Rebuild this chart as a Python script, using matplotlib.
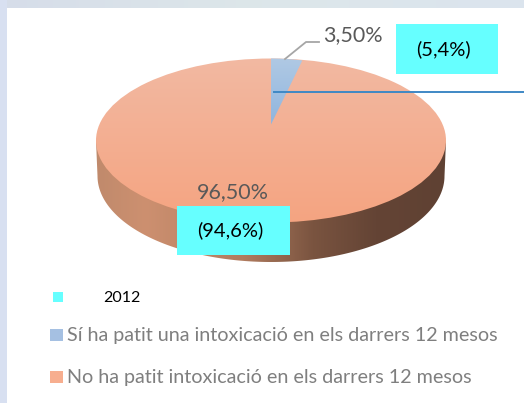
import numpy as np
import matplotlib
matplotlib.use("Agg")
import matplotlib.pyplot as plt
from matplotlib.patches import Polygon, Rectangle, Ellipse
from matplotlib.colors import LinearSegmentedColormap as LSC

plt.rcParams['font.family'] = ['Lato', 'DejaVu Sans']

# data
labels = ["Sí ha patit una intoxicació en els darrers 12 mesos",
          "No ha patit intoxicació en els darrers 12 mesos"]
values_2013 = [3.5, 96.5]
value_text = ["3,50%", "96,50%"]
values_2012_text = ["(5,4%)", "(94,6%)"]
legend_2012 = "2012"

W, H = 524, 403
fig = plt.figure(figsize=(W/100, H/100), dpi=100)
ax = fig.add_axes([0, 0, 1, 1])
ax.set_xlim(0, W); ax.set_ylim(H, 0); ax.axis('off')

# slide background
bg = LSC.from_list('bg', ['#d6dde9', '#dde7ea', '#dbe4ee'])
ax.imshow(np.linspace(0, 1, 256)[None, :], extent=(0, W, 8, 0), cmap=bg, aspect='auto', zorder=0)
ax.add_patch(Rectangle((0, 0), 7, H, fc='#d8e0f1', ec='none', zorder=0.5))
ax.add_patch(Rectangle((7, 8), W-7, H-8, fc='white', ec='none', zorder=1))

# pie geometry
cx, cy, a, b = 271, 140.5, 175, 82
apex = (271, 124.5)

# side wall
tb = np.linspace(np.pi, 0, 200)
side_pts = np.vstack([[cx-a, cy], np.c_[cx+(a-1.5)*np.cos(tb), 176+86*np.sin(tb)], [cx+a, cy]])
side = Polygon(side_pts, closed=True, fc='none', ec='none', zorder=2)
ax.add_patch(side)
side_cm = LSC.from_list('side', [(0, '#c08a6c'), (0.14, '#cd9070'), (0.42, '#b17c5f'),
                                 (0.62, '#7a5440'), (0.8, '#644435'), (1, '#5f4133')])
im = ax.imshow(np.linspace(0, 1, 256)[None, :], extent=(cx-a, cx+a, 265, 130), cmap=side_cm,
               aspect='auto', zorder=2)
im.set_clip_path(side)

# top face
top = Ellipse((cx, cy), 2*a, 2*b, fc='none', ec='none', zorder=3)
ax.add_patch(top)
top_cm = LSC.from_list('top', ['#f2b9a2', '#f5a481'])
im2 = ax.imshow(np.linspace(0, 1, 256)[:, None], extent=(cx-a, cx+a, cy+b, cy-b), cmap=top_cm,
                aspect='auto', zorder=3)
im2.set_clip_path(top)

# small slice, with the arc taken from the share of the first value
frac = values_2013[0] / sum(values_2013)
th = np.linspace(0, 2*np.pi*frac, 30)
arc = np.c_[cx + a*np.sin(th)*0.82, cy - b*np.cos(th)]
wedge = Polygon(np.vstack([apex, arc]), closed=True, fc='none', ec='none', zorder=4)
ax.add_patch(wedge)
bl_cm = LSC.from_list('bl', ['#b0c9e4', '#8fb5de'])
im3 = ax.imshow(np.linspace(0, 1, 256)[:, None], extent=(cx-a, cx+a, 125, 58), cmap=bl_cm,
                aspect='auto', zorder=4)
im3.set_clip_path(wedge)

# leader line and the blue pointer line
ax.plot([285, 306, 319], [59, 42, 42], color='#a6a6a6', lw=1.3, zorder=5)
ax.plot([274, 524], [91.5, 91.5], color='#3f88c5', lw=1.4, zorder=6)

# value labels
ax.text(323, 35.5, value_text[0], fontsize=15.5, color='#595959', ha='left', va='center', zorder=7)
ax.text(233, 192, value_text[1], fontsize=15.5, color='#595959', ha='center', va='center', zorder=7)

# cyan boxes
cyan = '#66ffff'
ax.add_patch(Rectangle((396, 24), 102, 50, fc=cyan, ec='none', zorder=6))
ax.add_patch(Rectangle((177, 206), 113, 49, fc=cyan, ec='none', zorder=6))
ax.text(443.5, 49, values_2012_text[0], fontsize=14.5, color='black', ha='center', va='center', zorder=7)
ax.text(230, 230, values_2012_text[1], fontsize=14.5, color='black', ha='center', va='center', zorder=7)

# legend
ax.add_patch(Rectangle((53, 292), 10, 10, fc=cyan, ec='none', zorder=6))
ax.text(103, 298, legend_2012, fontsize=11.5, color='black', ha='left', va='center', zorder=7)
ax.add_patch(Rectangle((50, 329), 13, 12, fc='#a5c0e2', ec='none', zorder=6))
ax.text(67, 335, labels[0], fontsize=14.2, color='#7f7f7f', ha='left', va='center', zorder=7)
ax.add_patch(Rectangle((50, 371), 13, 12, fc='#f7ae8f', ec='none', zorder=6))
ax.text(67, 377, labels[1], fontsize=14.2, color='#7f7f7f', ha='left', va='center', zorder=7)

ax.set_xlim(0, W); ax.set_ylim(H, 0)
fig.savefig('out.png', dpi=100)
